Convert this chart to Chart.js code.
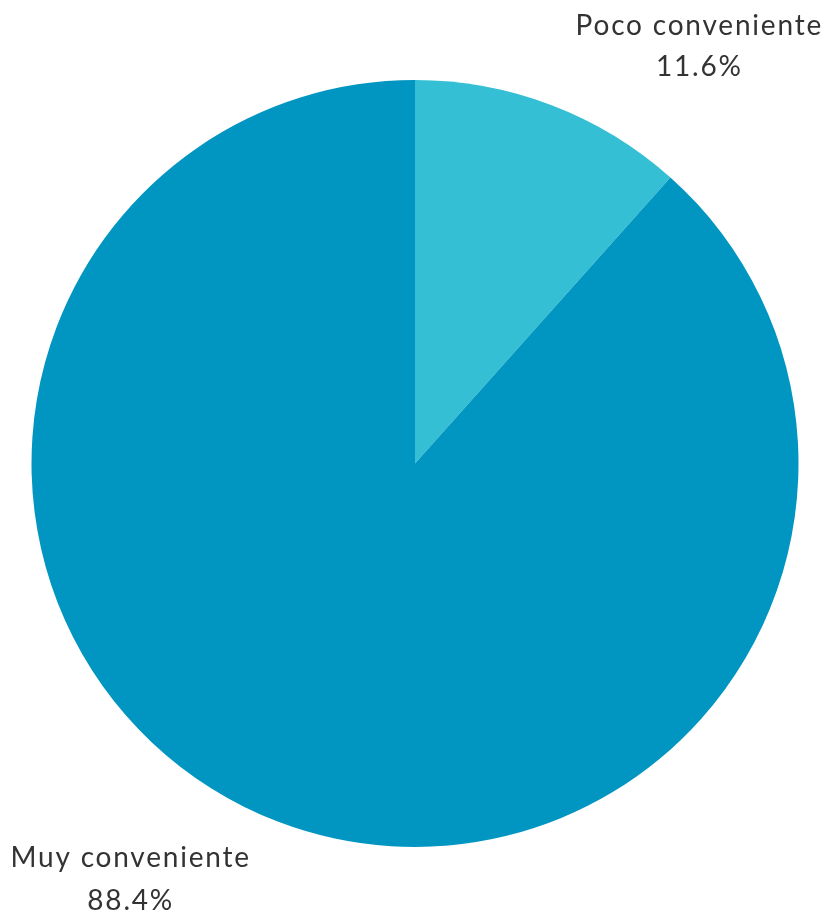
<!DOCTYPE html>
<html>
<head>
<meta charset="utf-8">
<script src="https://cdn.jsdelivr.net/npm/chart.js@4"></script>
<style>
  html, body { margin: 0; padding: 0; background: #fff; }
  #wrap { width: 834px; height: 918px; position: relative; }
</style>
</head>
<body>
<div id="wrap"><canvas id="pieChart"></canvas></div>
<script>
const categories = ['Poco conveniente', 'Muy conveniente'];
const values = [11.6, 88.4];
const colors = ['#34bfd5', '#0096c1'];

// etiquetas fuera del pastel, nombre + porcentaje
const outsideLabels = {
    id: 'outsideLabels',
    afterDatasetsDraw(chart) {
        const ctx = chart.ctx;
        const meta = chart.getDatasetMeta(0);
        ctx.save();
        ctx.fillStyle = '#333333';
        ctx.textAlign = 'center';
        ctx.textBaseline = 'alphabetic';
        ctx.font = '28px Lato, sans-serif';
        ctx.letterSpacing = '1.8px';
        meta.data.forEach((arc, i) => {
            const mid = (arc.startAngle + arc.endAngle) / 2;
            const r = arc.outerRadius;
            const x = arc.x + Math.cos(mid) * r * 2.08;
            let y1, y2;
            if (Math.sin(mid) < 0) {
                // arriba: el bloque termina cerca del borde
                y2 = arc.y - r * 1.01;
                y1 = y2 - 41;
            } else {
                y1 = arc.y + r * 1.053;
                y2 = y1 + 43;
            }
            ctx.fillText(categories[i], x, y1);
            ctx.fillText(values[i].toFixed(1) + '%', x, y2);
        });
        ctx.restore();
    }
};

document.addEventListener('DOMContentLoaded', () => {
    const el = document.getElementById('pieChart');
    new Chart(el, {
        type: 'pie',
        data: {
            labels: categories,
            datasets: [{
                data: values,
                backgroundColor: colors,
                borderWidth: 0
            }]
        },
        options: {
            responsive: true,
            maintainAspectRatio: false,
            animation: false,
            layout: { padding: { left: 31, right: 35, top: 80, bottom: 71 } },
            plugins: {
                legend: { display: false },
                tooltip: { enabled: false }
            }
        },
        plugins: [outsideLabels]
    });
});
</script>
</body>
</html>
